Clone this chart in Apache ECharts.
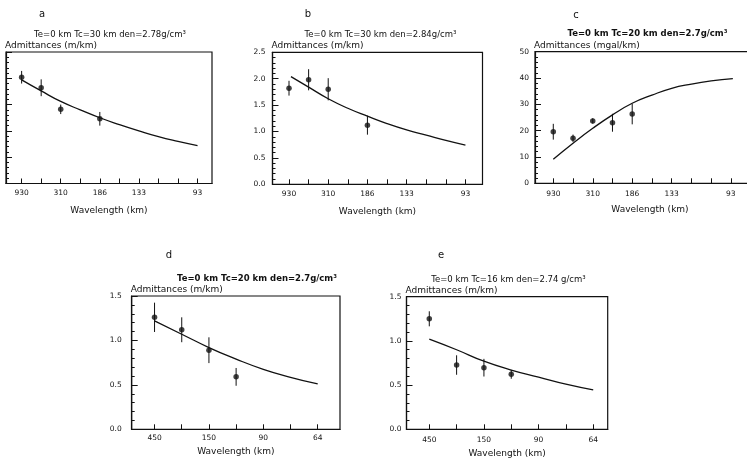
<!DOCTYPE html>
<html><head><meta charset="utf-8">
<script src="https://cdn.jsdelivr.net/npm/echarts@6/dist/echarts.min.js"></script>
<style>html,body{margin:0;padding:0;background:#fff}#c{width:747px;height:460px}</style>
</head><body><div id="c"></div>
<script>
// wavenumber index ticks and wavelength labels
const abcTickN = [1,2,3,4,5,6,7,8,9,10];
const abcLabelN = [1,3,5,7,10];
const abcLabels = ['930','310','186','133','93'];
const deTickN = [1,2,3,4,5,6,7];
const deLabelN = [1,3,5,7];
const deLabels = ['450','150','90','64'];

// panel a
const aPtsN = [1,2,3,5];
const aPtsV = [2.02,1.82,1.41,1.23];
const aPtsE = [0.12,0.16,0.09,0.13];
const aCurveN = [1,2,3,4,5,6,7,8,9,10];
const aCurveV = [1.97,1.76,1.56,1.40,1.25,1.12,1.00,0.89,0.80,0.72];
// panel b
const bPtsN = [1,2,3,5];
const bPtsV = [1.82,1.98,1.80,1.12];
const bPtsE = [0.14,0.20,0.21,0.18];
const bCurveN = [1.1,2,3,4,5,6,7,8,9,10];
const bCurveV = [2.04,1.84,1.62,1.44,1.29,1.15,1.03,0.93,0.83,0.74];
// panel c
const cPtsN = [1,2,3,4,5];
const cPtsV = [19.6,17.1,23.7,23.0,26.3];
const cPtsE = [3.0,1.4,1.0,3.4,3.9];
const cCurveN = [1,2,3,4,5,6,7,8,9,10.1];
const cCurveV = [9.1,15.2,20.9,26.0,30.4,33.5,36.1,37.7,38.9,39.8];
// panel d
const dPtsN = [1,2,3,4];
const dPtsV = [1.26,1.12,0.89,0.59];
const dPtsE = [0.165,0.14,0.145,0.10];
const dCurveN = [1,2,3,4,5,6,7];
const dCurveV = [1.22,1.07,0.92,0.79,0.675,0.585,0.51];
// panel e
const ePtsN = [1,2,3,4];
const ePtsV = [1.25,0.727,0.697,0.622];
const ePtsE = [0.085,0.11,0.10,0.05];
const eCurveN = [1,2,3,4,5,6,7];
const eCurveV = [1.02,0.90,0.77,0.67,0.59,0.51,0.445];

const titles = [
  'Te=0 km Tc=30 km den=2.78g/cm³',
  'Te=0 km Tc=30 km den=2.84g/cm³',
  'Te=0 km Tc=20 km den=2.7g/cm³',
  'Te=0 km Tc=20 km den=2.7g/cm³',
  'Te=0 km Tc=16 km den=2.74 g/cm³'
];
const letters = ['a','b','c','d','e'];
const yNames = ['Admittances (m/km)','Admittances (m/km)','Admittances (mgal/km)','Admittances (m/km)','Admittances (m/km)'];
const xName = 'Wavelength (km)';

const FONT = 'DejaVu Sans';
const INK = '#111';
const TXT = '#111';

const panels = [
  {grid:{left:6,top:52,width:206,height:131.5}, xmin:0.2, xmax:10.74, ymax:2.5, yint:0.5, tickN:abcTickN, labN:abcLabelN, labs:abcLabels, nameGap:23, lm:6, ylm:7,
   pts:[aPtsN,aPtsV,aPtsE], cur:[aCurveN,aCurveV], title:[110,35], letter:[42,14]},
  {grid:{left:272.5,top:52.3,width:210,height:132}, xmin:0.158, xmax:10.87, ymax:2.5, yint:0.5, tickN:abcTickN, labN:abcLabelN, labs:abcLabels, nameGap:23, lm:6, ylm:7,
   pts:[bPtsN,bPtsV,bPtsE], cur:[bCurveN,bCurveV], title:[380.5,35], letter:[308,14]},
  {grid:{left:535,top:51.7,width:230,height:131.6}, xmin:0.073, xmax:11.73, ymax:50, yint:10, tickN:abcTickN, labN:abcLabelN, labs:abcLabels, nameGap:22, lm:7, ylm:6,
   pts:[cPtsN,cPtsV,cPtsE], cur:[cCurveN,cCurveV], title:[647.5,33.5], letter:[576,15]},
  {grid:{left:131.7,top:296,width:208.3,height:133.3}, xmin:0.16, xmax:7.82, ymax:1.5, yint:0.5, tickN:deTickN, labN:deLabelN, labs:deLabels, nameGap:18, lm:5, ylm:10,
   pts:[dPtsN,dPtsV,dPtsE], cur:[dCurveN,dCurveV], title:[257,279], letter:[169,255]},
  {grid:{left:406.5,top:296.7,width:201.2,height:132.6}, xmin:0.166, xmax:7.53, ymax:1.5, yint:0.5, tickN:deTickN, labN:deLabelN, labs:deLabels, nameGap:20, lm:7, ylm:5,
   pts:[ePtsN,ePtsV,ePtsE], cur:[eCurveN,eCurveV], title:[508.5,280], letter:[441,255]}
];

const grids=[], xAxes=[], yAxes=[], series=[], graphics=[];
panels.forEach((p,i)=>{
  grids.push(Object.assign({show:true, borderColor:INK, borderWidth:1.2, backgroundColor:'transparent', containLabel:false, outerBoundsMode:'none'}, p.grid));
  const labMap = {};
  p.labN.forEach((n,k)=>labMap[n]=p.labs[k]);
  xAxes.push({
    type:'value', gridIndex:i, min:p.xmin, max:p.xmax,
    axisLine:{show:true, lineStyle:{color:INK, width:1.2}},
    axisTick:{show:true, inside:true, length:5, customValues:p.tickN, lineStyle:{color:INK, width:1}},
    axisLabel:{show:true, customValues:p.labN, formatter:(v)=>labMap[Math.round(v)]||'', color:TXT, fontFamily:FONT, fontSize:7.5, margin:p.lm},
    splitLine:{show:false},
    name:xName, nameLocation:'middle', nameGap:p.nameGap,
    nameTextStyle:{color:TXT, fontFamily:FONT, fontSize:9}
  });
  yAxes.push({
    type:'value', gridIndex:i, min:0, max:p.ymax, interval:p.yint,
    axisLine:{show:true, lineStyle:{color:INK, width:1.2}},
    axisTick:{show:true, inside:true, length:6, lineStyle:{color:INK, width:1}},
    minorTick:{show:true, splitNumber:5, length:3, lineStyle:{color:INK, width:1}},
    axisLabel:{color:TXT, fontFamily:FONT, fontSize:7.5, margin:p.ylm,
      formatter:(v)=> p.yint<1 ? v.toFixed(1) : String(v)},
    splitLine:{show:false},
    name:yNames[i], nameLocation:'end', nameGap:2,
    nameTextStyle:{color:TXT, fontFamily:FONT, fontSize:9, align:'left', verticalAlign:'bottom', padding:[0,0,0,-1]}
  });
  series.push({
    type:'line', xAxisIndex:i, yAxisIndex:i, smooth:true, symbol:'none',
    data:p.cur[0].map((n,k)=>[n,p.cur[1][k]]),
    lineStyle:{color:INK, width:1.3}, silent:true, z:2
  });
  const N=p.pts[0], V=p.pts[1], E=p.pts[2];
  series.push({
    type:'custom', xAxisIndex:i, yAxisIndex:i, silent:true, z:3,
    data:N.map((n,k)=>[n,V[k],E[k]]),
    encode:{x:0,y:1},
    renderItem:(params,api)=>{
      const x=api.value(0), v=api.value(1), e=api.value(2);
      const p1=api.coord([x,v-e]), p2=api.coord([x,v+e]);
      return {type:'line', shape:{x1:p1[0],y1:p1[1],x2:p2[0],y2:p2[1]}, style:{stroke:INK, lineWidth:1}};
    }
  });
  series.push({
    type:'scatter', xAxisIndex:i, yAxisIndex:i, symbol:'circle', symbolSize:5.5,
    data:N.map((n,k)=>[n,V[k]]), itemStyle:{color:INK}, silent:true, z:4
  });
  graphics.push({type:'text', x:p.title[0], y:p.title[1], style:{text:titles[i], fill:TXT, font:(i===2||i===3?'bold ':'')+'8.5px '+FONT, textAlign:'center', textVerticalAlign:'middle'}});
  graphics.push({type:'text', x:p.letter[0], y:p.letter[1], style:{text:letters[i], fill:TXT, font:'10px '+FONT, textAlign:'center', textVerticalAlign:'middle'}});
});

const chart = echarts.init(document.getElementById('c'), null, {renderer:'canvas', width:747, height:460});
chart.setOption({
  animation:false, backgroundColor:'#fff',
  grid:grids, xAxis:xAxes, yAxis:yAxes, series:series, graphic:graphics
});
</script></body></html>
